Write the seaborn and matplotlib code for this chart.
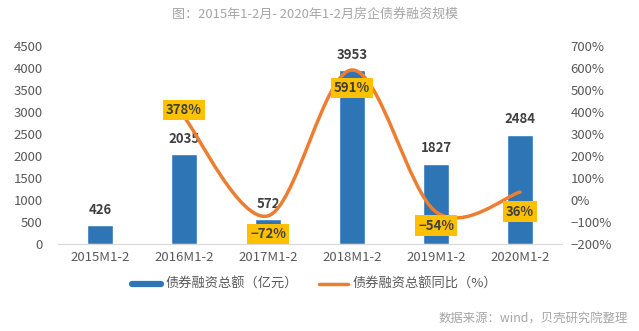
import numpy as np
import pandas as pd
import matplotlib
matplotlib.use("Agg")
import matplotlib.pyplot as plt
from matplotlib.path import Path
from matplotlib.patches import PathPatch
from matplotlib.lines import Line2D
from matplotlib.ticker import MultipleLocator, FuncFormatter
import seaborn as sns

# Data
periods = ["2015M1-2", "2016M1-2", "2017M1-2", "2018M1-2", "2019M1-2", "2020M1-2"]
bond_amount = [426, 2035, 572, 3953, 1827, 2484]          # 亿元
yoy_periods = ["2016M1-2", "2017M1-2", "2018M1-2", "2019M1-2", "2020M1-2"]
yoy_pct = [378, -72, 591, -54, 36]                          # %

title = "图：2015年1-2月- 2020年1-2月房企债券融资规模"
source = "数据来源：wind，贝壳研究院整理"
bar_name = "债券融资总额（亿元）"
line_name = "债券融资总额同比（%）"

BLUE = "#2E75B6"
ORANGE = "#ED7D31"
GOLD = "#FFC000"
TICK = "#595959"
LABEL = "#404040"

sns.set_theme(style="white")
plt.rcParams["font.family"] = ["Noto Sans CJK SC", "DejaVu Sans"]

fig = plt.figure(figsize=(6.39, 3.31), dpi=100)
ax = fig.add_axes([0.0908, 0.2628, 0.7887, 0.5982])

df = pd.DataFrame({"period": periods, "amount": bond_amount})
sns.barplot(data=df, x="period", y="amount", color=BLUE, width=0.31,
            saturation=1, ax=ax)

ax.set_ylim(0, 4500)
ax.set_xlim(-0.5, len(periods) - 0.5)
ax.yaxis.set_major_locator(MultipleLocator(500))
ax.set_xlabel("")
ax.set_ylabel("")
ax.tick_params(axis="both", length=0, labelsize=9.5, colors=TICK)
ax.tick_params(axis="x", pad=5)
ax.tick_params(axis="y", pad=11)
for s in ("top", "right", "left"):
    ax.spines[s].set_visible(False)
ax.spines["bottom"].set_color("#D9D9D9")
ax.spines["bottom"].set_linewidth(0.8)

for i, v in enumerate(bond_amount):
    ax.annotate(str(v), (i, v), xytext=(0, 6), textcoords="offset points",
                ha="center", va="bottom", fontsize=9.5, fontweight="bold",
                color=LABEL)

# Secondary axis: smoothed YoY curve
ax2 = ax.twinx()
ax2.set_ylim(-200, 700)
ax2.yaxis.set_major_locator(MultipleLocator(100))
ax2.yaxis.set_major_formatter(FuncFormatter(lambda v, _: f"{v:.0f}%".replace("-", "−")))
ax2.tick_params(axis="y", length=0, labelsize=9.5, colors=TICK, pad=6)
for s in ("top", "right", "left", "bottom"):
    ax2.spines[s].set_visible(False)

xs = [periods.index(p) for p in yoy_periods]
pts = np.column_stack([xs, yoy_pct]).astype(float)
n = len(pts)
verts = [tuple(pts[0])]
codes = [Path.MOVETO]
for i in range(n - 1):
    p0 = pts[max(i - 1, 0)]
    p1 = pts[i]
    p2 = pts[i + 1]
    p3 = pts[min(i + 2, n - 1)]
    c1 = p1 + (p2 - p0) / 6.0
    c2 = p2 - (p3 - p1) / 6.0
    verts += [tuple(c1), tuple(c2), tuple(p2)]
    codes += [Path.CURVE4] * 3
ax2.add_patch(PathPatch(Path(verts, codes), facecolor="none", edgecolor=ORANGE,
                        lw=2.5, capstyle="round", joinstyle="round", zorder=3))

offsets = [5, -13, -13, -10, -14]
for x, v, dy in zip(xs, yoy_pct, offsets):
    ax2.annotate(f"{v}%".replace("-", "−"), (x, v), xytext=(0, dy),
                 textcoords="offset points", ha="center", va="center",
                 fontsize=9.5, fontweight="bold", color=LABEL, zorder=5,
                 bbox=dict(boxstyle="square,pad=0.25", fc=GOLD, ec="none"))

fig.text(0.493, 0.958, title, ha="center", va="center", fontsize=9.4, color="#A6A6A6")
fig.text(0.983, 0.039, source, ha="right", va="center", fontsize=8.9, color="#A6A6A6")

handles = [Line2D([], [], color=BLUE, lw=4.5), Line2D([], [], color=ORANGE, lw=2.5)]
fig.legend(handles, [bar_name, line_name], loc="center", bbox_to_anchor=(0.492, 0.14),
           ncol=2, frameon=False, fontsize=9.5, handlelength=2.2, handletextpad=0.35,
           columnspacing=1.6, labelcolor=TICK)

fig.savefig("out.png", dpi=100)
